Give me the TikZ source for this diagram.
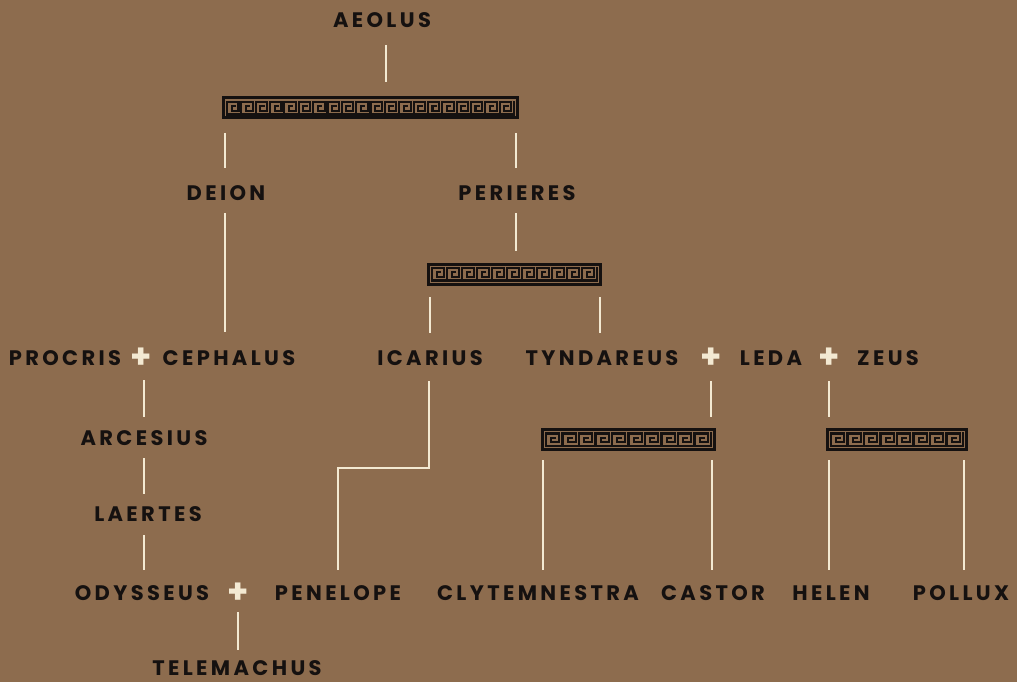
\documentclass[tikz,border=0pt]{standalone}
\usepackage{fontspec}
\usetikzlibrary{calc}
\newfontfamily\greekfont{Poppins}[LetterSpace=16]
\newfontfamily\plusfont{Poppins}
\definecolor{bgc}{HTML}{8D6C4E}
\definecolor{linec}{HTML}{F3E9D2}
\definecolor{ink}{HTML}{151110}
\tikzset{
  conn/.style={draw=linec, line width=2pt},
  hero/.style={text=ink, font=\greekfont\bfseries\fontsize{21}{21}\selectfont, inner sep=0pt},
  plus/.style={text=linec, font=\plusfont\bfseries\fontsize{34}{34}\selectfont, inner sep=0pt},
  barbox/.style={draw=ink, line width=3pt, inner sep=0pt},
  mline/.style={draw=ink, line width=2.1pt, line cap=rect}
}
\newcommand\mbar[5]{%
  \node[barbox, minimum width=#4-3, minimum height=20] (#1) at (#2,#3) {};
  \pgfmathsetmacro\mx{#2-#4/2+5}
  \pgfmathsetmacro\mw{(#4-10)/#5}
  \pgfmathsetmacro\my{#3-6}
  \draw[mline] (\mx,\my+12.5) -- (\mx+#4-10,\my+12.5) -- (\mx+#4-10,\my);
  \foreach \i in {1,...,#5}{%
    \pgfmathsetmacro\ux{\mx+(\i-1)*\mw}
    \draw[mline] (\ux,\my+12.5) -- (\ux,\my) -- (\ux+0.8*\mw,\my) -- (\ux+0.8*\mw,\my+8.8)
      -- (\ux+0.32*\mw,\my+8.8) -- (\ux+0.32*\mw,\my+4.4) -- (\ux+0.56*\mw,\my+4.4);
  }%
}
\begin{document}
\begin{tikzpicture}[x=1pt,y=-1pt]
\fill[bgc] (0,0) rectangle (1017,682);
\useasboundingbox (0,0) rectangle (1017,682);

% names
\node[hero] (aeolus) at (382,20) {AEOLUS};
\node[hero] (deion) at (226,193) {DEION};
\node[hero] (perieres) at (517,193) {PERIERES};
\node[hero] (procris) at (65,358) {PROCRIS};
\node[plus] (p1) at (141,358) {+};
\node[hero] (cephalus) at (229,358) {CEPHALUS};
\node[hero] (icarius) at (430,358) {ICARIUS};
\node[hero] (tyndareus) at (602,358) {TYNDAREUS};
\node[plus] (p2) at (711,358) {+};
\node[hero] (leda) at (771,358) {LEDA};
\node[plus] (p3) at (829,358) {+};
\node[hero] (zeus) at (888,358) {ZEUS};
\node[hero] (arcesius) at (144,438) {ARCESIUS};
\node[hero] (laertes) at (148,514) {LAERTES};
\node[hero] (odysseus) at (142,593) {ODYSSEUS};
\node[plus] (p4) at (238,593) {+};
\node[hero] (penelope) at (338,593) {PENELOPE};
\node[hero] (clytemnestra) at (538,593) {CLYTEMNESTRA};
\node[hero] (castor) at (713,593) {CASTOR};
\node[hero] (helen) at (831,593) {HELEN};
\node[hero] (pollux) at (961,593) {POLLUX};
\node[hero] (telemachus) at (237,668) {TELEMACHUS};

% meander bars
\mbar{bar1}{370.5}{108}{297}{20}
\mbar{bar2}{514.5}{274}{175}{11}
\mbar{bar3}{628.5}{439.5}{175}{10}
\mbar{bar4}{897}{439.5}{142}{8}

% connectors
\draw[conn] (aeolus) ++(4,25) -- ++(0,37);
\draw[conn] (deion) ++(-1,-60) -- ++(0,35);
\draw[conn] (perieres) ++(-1,-60) -- ++(0,35);
\draw[conn] (deion) ++(-1,20) -- ++(0,119);
\draw[conn] (perieres) ++(-1,20) -- ++(0,38);
\draw[conn] (icarius) ++(0,-61) -- ++(0,36);
\draw[conn] (tyndareus) ++(-2,-61) -- ++(0,36);
\draw[conn] (p1) ++(3,22) -- ++(0,37);
\draw[conn] (arcesius) ++(0,20) -- ++(0,36);
\draw[conn] (laertes) ++(-4,21) -- ++(0,35);
\draw[conn] (icarius) ++(-1,23) -- ++(0,87) -| ($(penelope)+(0,-23)$);
\draw[conn] (p2) ++(0,23) -- ++(0,36);
\draw[conn] (clytemnestra) ++(5,-133) -- ++(0,110);
\draw[conn] (castor) ++(-1,-133) -- ++(0,110);
\draw[conn] (p3) ++(0,23) -- ++(0,36);
\draw[conn] (helen) ++(-2,-133) -- ++(0,110);
\draw[conn] (pollux) ++(3,-133) -- ++(0,110);
\draw[conn] (p4) ++(0,19) -- ++(0,38);
\end{tikzpicture}
\end{document}
